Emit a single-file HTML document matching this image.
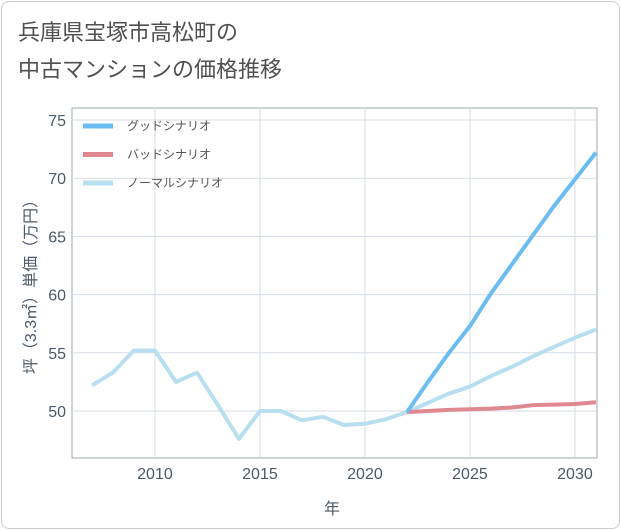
<!DOCTYPE html>
<html><head><meta charset="utf-8"><style>
body{margin:0;background:#fff;}
#card{position:absolute;left:1px;top:1px;width:617px;height:526px;border:1px solid #ccc;border-radius:8px;background:#fff;}
.t{font-family:"Liberation Sans","Noto Sans CJK JP",sans-serif;}
</style></head><body>
<div id="card"></div>
<svg id="svg" width="621" height="530" style="position:absolute;left:0;top:0">
<text class="t" x="18" y="40" font-size="22" fill="#505050">兵庫県宝塚市高松町の</text>
<text class="t" x="18" y="77" font-size="22" fill="#505050">中古マンションの価格推移</text>
<rect x="72" y="108" width="525" height="350" fill="none" stroke="#9aa" stroke-width="1"/>
<g id="grid"></g><g id="series"></g><g id="legend"></g>
<text class="t" x="332" y="514" font-size="16" fill="#4a5a6a" text-anchor="middle">年</text>
<text class="t" transform="translate(36,283) rotate(-90)" font-size="16" fill="#4a5a6a" text-anchor="middle">坪（3.3㎡）単価（万円）</text>
</svg>
<script>
const years=[2007,2008,2009,2010,2011,2012,2013,2014,2015,2016,2017,2018,2019,2020,2021,2022,2023,2024,2025,2026,2027,2028,2029,2030,2031];
const normal=[52.2,53.3,55.2,55.2,52.5,53.3,50.5,47.6,50.0,50.0,49.2,49.5,48.8,48.9,49.3,49.9,50.7,51.5,52.1,53.0,53.8,54.7,55.5,56.3,57.0];
const goodYears=[2022,2023,2024,2025,2026,2027,2028,2029,2030,2031];
const good=[49.9,52.5,55.0,57.3,60.1,62.6,65.1,67.6,69.9,72.2];
const bad=[49.9,50.0,50.1,50.15,50.2,50.3,50.5,50.55,50.6,50.75];
const xTicks=[2010,2015,2020,2025,2030];
const yTicks=[50,55,60,65,70,75];
const names=["グッドシナリオ","バッドシナリオ","ノーマルシナリオ"];
const colors=["#6bbcf0","#e08890","#b8dff0"];
const X=y=>72+(y-2006.05)*21, Y=v=>411-(v-50)*11.64;
const NS="http://www.w3.org/2000/svg";
function mk(t,a,p){const e=document.createElementNS(NS,t);for(const k in a)e.setAttribute(k,a[k]);document.getElementById(p).appendChild(e);return e;}
xTicks.forEach(t=>{const l=mk('line',{x1:X(t),x2:X(t),y1:108,y2:458,stroke:'#d5dde5'},'grid');


const tx=mk('text',{x:X(t),y:479,'font-size':16,fill:'#4a5a6a','text-anchor':'middle',class:'t'},'grid');tx.textContent=t;

});
yTicks.forEach(t=>{const l=mk('line',{x1:72,x2:597,y1:Y(t),y2:Y(t),stroke:'#d5dde5'},'grid');


const tx=mk('text',{x:66,y:Y(t)+6,'font-size':16,fill:'#4a5a6a','text-anchor':'end',class:'t'},'grid');tx.textContent=t;

});
function line(xs,vs,c,n){const p=mk('polyline',{points:xs.map((x,i)=>X(x)+','+Y(vs[i])).join(' '),fill:'none',stroke:c,'stroke-width':4,'stroke-linejoin':'round'},'series');

}
line(years,normal,colors[2],'normal-scenario-line');
line(goodYears,bad,colors[1],'bad-scenario-line');
line(goodYears,good,colors[0],'good-scenario-line');
names.forEach((n,i)=>{const y=126+i*28.5;
const l=mk('line',{x1:83,x2:113,y1:y,y2:y,stroke:colors[i],'stroke-width':5},'legend');


const t=mk('text',{x:127,y:y+4,'font-size':12,fill:'#555',class:'t'},'legend');t.textContent=n;

});
</script>
</body></html>
